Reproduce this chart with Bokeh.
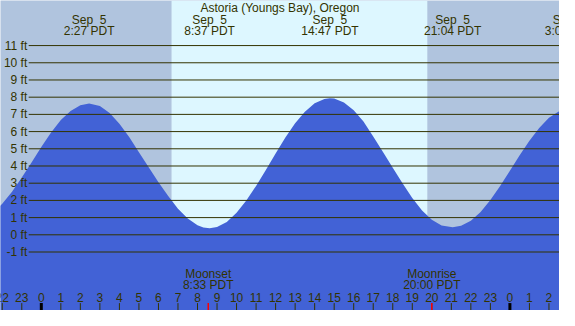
from bokeh.plotting import figure
from bokeh.models import Range1d, BoxAnnotation
from bokeh.core.properties import value
from bokeh.embed import file_html
from bokeh.resources import INLINE

# ---------------- data ----------------
title = "Astoria (Youngs Bay), Oregon"

# hours since midnight Sep 5 (PDT) and tide height in feet
tide_hours = [-2.5, -2.0, -1.5, -1.0, -0.5, 0.0, 0.5, 1.0, 1.5, 2.0, 2.45,
              3.0, 3.5, 4.0, 4.5, 5.0, 5.5, 6.0, 6.5, 7.0, 7.5, 8.0, 8.3, 8.62,
              9.0, 9.5, 10.0, 10.5, 11.0, 11.5, 12.0, 12.5, 13.0, 13.5, 14.0,
              14.5, 14.78, 15.0, 15.5, 16.0, 16.5, 17.0, 17.5, 18.0, 18.5,
              19.0, 19.5, 20.0, 20.5, 21.07, 21.5, 22.0, 22.5, 23.0, 23.5,
              24.0, 24.5, 25.0, 25.5, 26.0, 26.5, 27.08]
tide_feet = [1.25, 1.8, 2.5, 3.33, 4.2, 5.1, 5.95, 6.67, 7.2, 7.53, 7.63,
             7.49, 7.08, 6.45, 5.68, 4.8, 3.92, 3.05, 2.25, 1.52, 0.95, 0.56, 0.43, 0.38,
             0.45, 0.75, 1.28, 1.99, 2.84, 3.77, 4.73, 5.66, 6.48, 7.16, 7.65,
             7.9, 7.94, 7.92, 7.69, 7.24, 6.59, 5.72, 4.82, 3.9, 3.0,
             2.14, 1.42, 0.87, 0.54, 0.44, 0.52, 0.82, 1.33, 2.02, 2.84,
             3.72, 4.62, 5.47, 6.21, 6.80, 7.17, 7.33]

level_ft = [-1, 0, 1, 2, 3, 4, 5, 6, 7, 8, 9, 10, 11]
level_labels = ["-1 ft", "0 ft", "1 ft", "2 ft", "3 ft", "4 ft", "5 ft",
                "6 ft", "7 ft", "8 ft", "9 ft", "10 ft", "11 ft"]

extreme_hours = [2.45, 8.617, 14.783, 21.067, 27.083]
extreme_dates = ["Sep\u00a0\u00a05", "Sep\u00a0\u00a05", "Sep\u00a0\u00a05",
                 "Sep\u00a0\u00a05", "Sep\u00a0\u00a06"]
extreme_times = ["2:27 PDT", "8:37 PDT", "14:47 PDT", "21:04 PDT", "3:05 PDT"]

hour_ticks = [-2, -1, 0, 1, 2, 3, 4, 5, 6, 7, 8, 9, 10, 11, 12, 13, 14, 15,
              16, 17, 18, 19, 20, 21, 22, 23, 24, 25, 26]
hour_labels = ["22", "23", "0", "1", "2", "3", "4", "5", "6", "7", "8", "9",
               "10", "11", "12", "13", "14", "15", "16", "17", "18", "19",
               "20", "21", "22", "23", "0", "1", "2"]
midnight_ticks = [0, 24]

moon_hours = [8.55, 20.0]
moon_events = ["Moonset", "Moonrise"]
moon_times = ["8:33 PDT", "20:00 PDT"]

sunrise_hour = 6.67
sunset_hour = 19.77

# ---------------- layout / style ----------------
X0, X1 = -2.09, 26.54
Y0, Y1 = -4.40, 13.62
W, H = 559, 310

NIGHT = "#B0C4DE"
DAY = "#DDF7FF"
WATER = "#4262D6"
INK = "#333300"
FONT = value("Liberation Sans")
FS = "12px"

p = figure(width=W, height=H, x_range=Range1d(X0, X1), y_range=Range1d(Y0, Y1),
           output_backend="svg", toolbar_location=None, min_border=0,
           background_fill_color=NIGHT, border_fill_color=NIGHT)
p.axis.visible = False
p.grid.visible = False
p.outline_line_color = None

# daylight band
p.add_layout(BoxAnnotation(left=sunrise_hour, right=sunset_hour,
                           fill_color=DAY, fill_alpha=1.0, line_color=None,
                           level="underlay"))

# tide area
p.varea(x=tide_hours, y1=[Y0 - 1] * len(tide_hours), y2=tide_feet,
        fill_color=WATER)

# horizontal level lines
line_start = -0.647
p.segment(x0=[line_start] * len(level_ft), x1=[X1 + 1] * len(level_ft),
          y0=level_ft, y1=level_ft, line_color=INK, line_width=1)

# y labels
p.text(x=[-0.72] * len(level_ft), y=level_ft, text=level_labels,
       text_font=FONT, text_font_size=FS, text_color=INK,
       text_align="right", text_baseline="middle")

# title
p.text(x=[(X0 + X1) / 2], y=[13.17], text=[title], text_font=FONT,
       text_font_size=FS, text_color=INK, text_align="center",
       text_baseline="middle")

# extremes labels
p.text(x=extreme_hours, y=[12.51] * len(extreme_hours), text=extreme_dates,
       text_font=FONT, text_font_size=FS, text_color=INK,
       text_align="center", text_baseline="middle")
p.text(x=extreme_hours, y=[11.85] * len(extreme_hours), text=extreme_times,
       text_font=FONT, text_font_size=FS, text_color=INK,
       text_align="center", text_baseline="middle")

# moon labels
p.text(x=moon_hours, y=[-2.26] * len(moon_hours), text=moon_events,
       text_font=FONT, text_font_size=FS, text_color=INK,
       text_align="center", text_baseline="middle")
p.text(x=moon_hours, y=[-2.92] * len(moon_hours), text=moon_times,
       text_font=FONT, text_font_size=FS, text_color=INK,
       text_align="center", text_baseline="middle")

# hour labels
p.text(x=hour_ticks, y=[-3.62] * len(hour_ticks), text=hour_labels,
       text_font=FONT, text_font_size=FS, text_color=INK,
       text_align="center", text_baseline="middle")

# hour ticks
tick_top = -3.97
p.segment(x0=hour_ticks, x1=hour_ticks, y0=[tick_top] * len(hour_ticks),
          y1=[Y0 - 1] * len(hour_ticks), line_color=INK, line_width=1)
p.segment(x0=midnight_ticks, x1=midnight_ticks,
          y0=[tick_top] * len(midnight_ticks), y1=[Y0 - 1] * len(midnight_ticks),
          line_color="#000000", line_width=3)
p.segment(x0=moon_hours, x1=moon_hours, y0=[tick_top] * len(moon_hours),
          y1=[Y0 - 1] * len(moon_hours), line_color="#FF0000", line_width=1.5)

open("out.html", "w").write(file_html(p, INLINE))
